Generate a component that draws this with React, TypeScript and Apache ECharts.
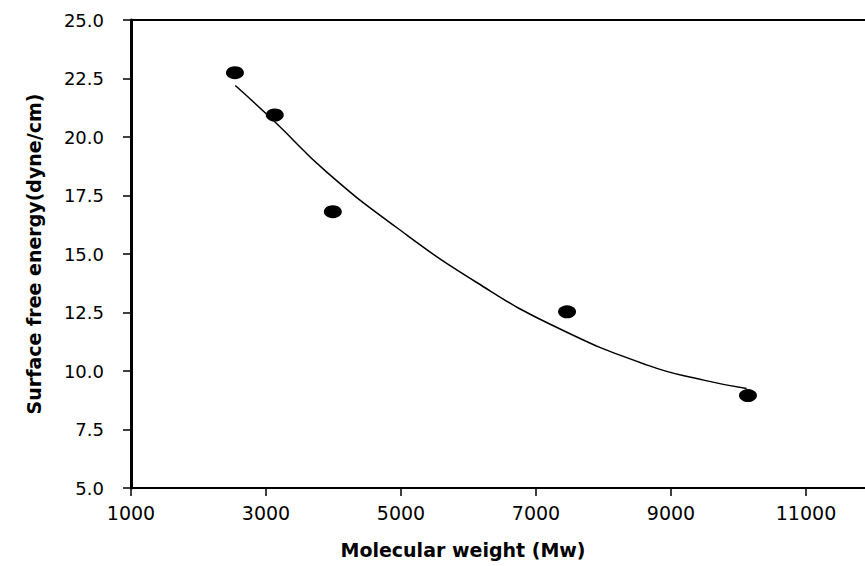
import React, { useEffect, useRef } from "react";
import * as echarts from "echarts";

const xTicks = [1000, 3000, 5000, 7000, 9000, 11000];
const yTicks = [5.0, 7.5, 10.0, 12.5, 15.0, 17.5, 20.0, 22.5, 25.0];

const mw = [2540, 3130, 3990, 7460, 10140];
const energy = [22.75, 20.94, 16.81, 12.53, 8.95];

const fitMw = [2545, 3130, 3900, 4950, 6140, 7280, 8650, 9500, 10120];
const fitEnergy = [22.2, 20.65, 18.5, 16.1, 13.75, 11.9, 10.25, 9.6, 9.25];

const xTitle = "Molecular weight (Mw)";
const yTitle = "Surface free energy(dyne/cm)";

export default function App() {
  const ref = useRef<HTMLDivElement>(null);
  useEffect(() => {
    document.body.style.margin = "0";
    const chart = echarts.init(ref.current!, undefined, { renderer: "svg" });
    const black = "#000";
    chart.setOption({
      animation: false,
      backgroundColor: "#fff",
      grid: { left: 131, top: 20, bottom: 78, right: 0 },
      graphic: [
        {
          type: "text",
          x: 463,
          y: 550,
          style: {
            text: xTitle,
            fill: black,
            fontFamily: "DejaVu Sans",
            fontWeight: "bold",
            fontSize: 19,
            align: "center",
            verticalAlign: "middle",
          },
        },
      ],
      xAxis: [
        {
          type: "value",
          min: 1000,
          max: 11874,
          interval: 2000,
          axisLine: { show: true, lineStyle: { color: black, width: 2 } },
          axisTick: {
            show: true,
            length: 8,
            customValues: xTicks,
            lineStyle: { color: black, width: 1.5 },
          },
          axisLabel: {
            color: black,
            fontFamily: "DejaVu Sans",
            fontSize: 19,
            margin: 15,
            customValues: xTicks,
            formatter: (v: number) => String(v),
          },
          splitLine: { show: false },
        },
        {
          type: "value",
          position: "top",
          min: 1000,
          max: 11874,
          axisLine: { show: true, lineStyle: { color: black, width: 2 } },
          axisTick: { show: false },
          axisLabel: { show: false },
          splitLine: { show: false },
        },
      ],
      yAxis: {
        type: "value",
        min: 5,
        max: 25,
        interval: 2.5,
        name: yTitle,
        nameLocation: "middle",
        nameGap: 88,
        nameTextStyle: {
          color: black,
          fontFamily: "DejaVu Sans",
          fontWeight: "bold",
          fontSize: 19,
        },
        axisLine: { show: true, lineStyle: { color: black, width: 3 } },
        axisTick: { show: true, length: 8, lineStyle: { color: black, width: 1.5 } },
        axisLabel: {
          color: black,
          fontFamily: "DejaVu Sans",
          fontSize: 18,
          margin: 27,
          formatter: (v: number) =>
            yTicks.some((t) => Math.abs(t - v) < 1e-6) ? v.toFixed(1) : "",
        },
        splitLine: { show: false },
      },
      series: [
        {
          type: "line",
          data: fitMw.map((x, i) => [x, fitEnergy[i]]),
          smooth: true,
          showSymbol: false,
          lineStyle: { color: black, width: 1.5 },
          z: 2,
        },
        {
          type: "scatter",
          data: mw.map((x, i) => [x, energy[i]]),
          symbol: "circle",
          symbolSize: [18, 13],
          itemStyle: { color: black, opacity: 1 },
          z: 3,
        },
      ],
    });
    return () => chart.dispose();
  }, []);
  return (
    <div
      ref={ref}
      style={{ position: "fixed", left: 0, top: 0, width: 865, height: 566 }}
    />
  );
}
